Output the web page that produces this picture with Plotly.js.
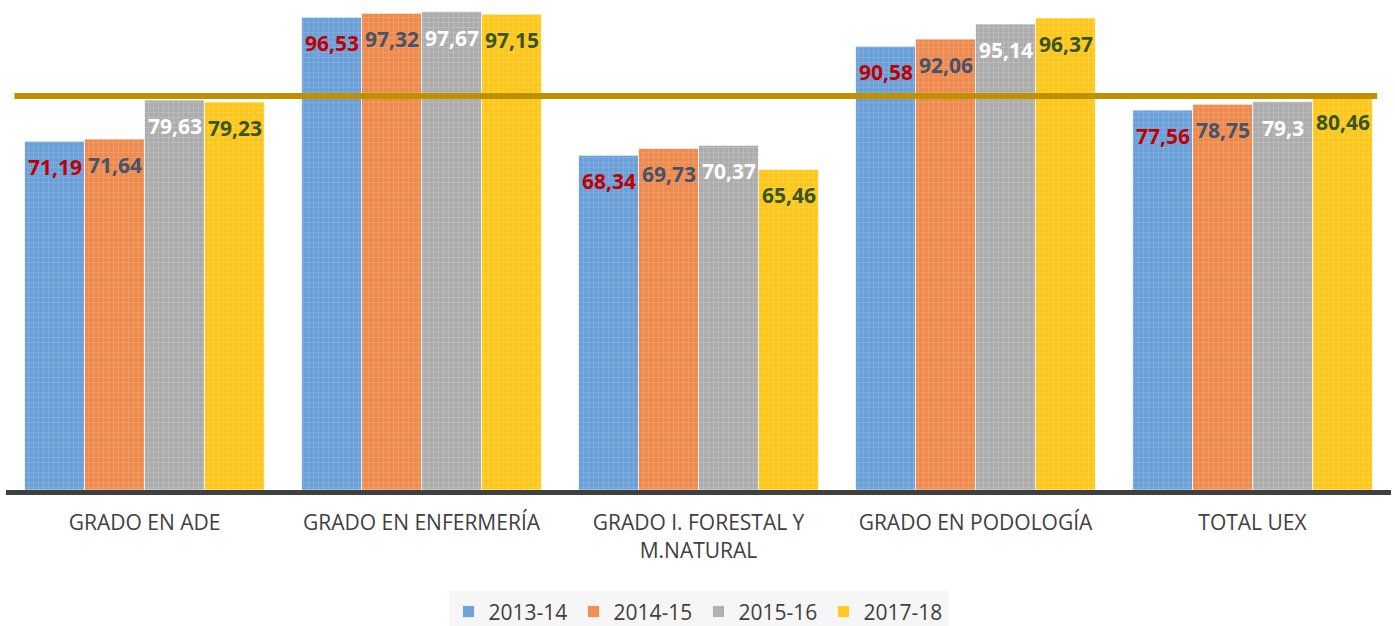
<!DOCTYPE html>
<html>
<head>
<meta charset="utf-8">
<script src="https://cdn.plot.ly/plotly-3.0.1.min.js"></script>
<style>html,body{margin:0;padding:0;background:#fff;}#chart{width:1395px;height:626px;}</style>
</head>
<body>
<div id="chart"></div>
<script>
const categories = ["GRADO EN ADE", "GRADO EN ENFERMERÍA", "GRADO I. FORESTAL Y<br>M.NATURAL", "GRADO EN PODOLOGÍA", "TOTAL UEX"];
const seriesNames = ["2013-14", "2014-15", "2015-16", "2017-18"];
const s2013 = [71.19, 96.53, 68.34, 90.58, 77.56];
const s2014 = [71.64, 97.32, 69.73, 92.06, 78.75];
const s2015 = [79.63, 97.67, 70.37, 95.14, 79.3];
const s2017 = [79.23, 97.15, 65.46, 96.37, 80.46];
const referenceLine = 80.46;

const seriesValues = [s2013, s2014, s2015, s2017];
const barColors = ["#6A9FD8", "#EE8A4E", "#ACACAC", "#FFC61A"];
const patternColors = ["#8DB6E3", "#F3A77A", "#C4C4C4", "#FFD75A"];
const labelColors = ["#C00000", "#44546A", "#FFFFFF", "#375623"];

const fmt = v => String(v).replace(".", ",");

const traces = seriesValues.map((vals, i) => ({
  type: "bar",
  name: seriesNames[i],
  x: categories,
  y: vals,
  marker: {
    color: barColors[i],
    line: {color: "rgba(255,255,255,0.7)", width: 1},
    pattern: {shape: "+", fgcolor: patternColors[i], bgcolor: barColors[i], size: 5, solidity: 0.2}
  },
  hoverinfo: "skip"
}));

const annotations = [];
seriesValues.forEach((vals, i) => {
  vals.forEach((v, j) => {
    annotations.push({
      x: categories[j], y: v, xref: "x", yref: "y",
      text: "<b>" + fmt(v) + "</b>", showarrow: false,
      xshift: (i - 1.5) * 60, yshift: -26,
      yanchor: "middle", xanchor: "center",
      font: {family: "Open Sans, sans-serif", size: 21, color: labelColors[i]}
    });
  });
});

const layout = {
  width: 1395, height: 626,
  margin: {l: 6, r: 4, t: 10, b: 136, autoexpand: false},
  paper_bgcolor: "#FFFFFF", plot_bgcolor: "#FFFFFF",
  barmode: "group", bargap: 0.134, bargroupgap: 0,
  font: {family: "Open Sans, sans-serif", color: "#404040"},
  xaxis: {
    type: "category", automargin: false,
    showline: true, linecolor: "#404040", linewidth: 5,
    ticks: "", showgrid: false, zeroline: false,
    tickfont: {size: 21, color: "#404040"},
    ticklabelstandoff: 10
  },
  yaxis: {range: [0, 98], visible: false, showgrid: false, zeroline: false},
  showlegend: true,
  legend: {
    orientation: "h", x: 0.5, xanchor: "center", y: -0.254, yanchor: "middle",
    bgcolor: "#F6F6F6", font: {size: 21, color: "#404040"},
    entrywidth: 80, entrywidthmode: "pixels"
  },
  shapes: [{
    type: "line", xref: "paper", yref: "y",
    x0: 0.0061, x1: 0.990, y0: referenceLine, y1: referenceLine,
    line: {color: "#BF9000", width: 6}, layer: "above"
  }],
  annotations: annotations
};

Plotly.newPlot("chart", traces, layout, {displayModeBar: false, staticPlot: true});
</script>
</body>
</html>
